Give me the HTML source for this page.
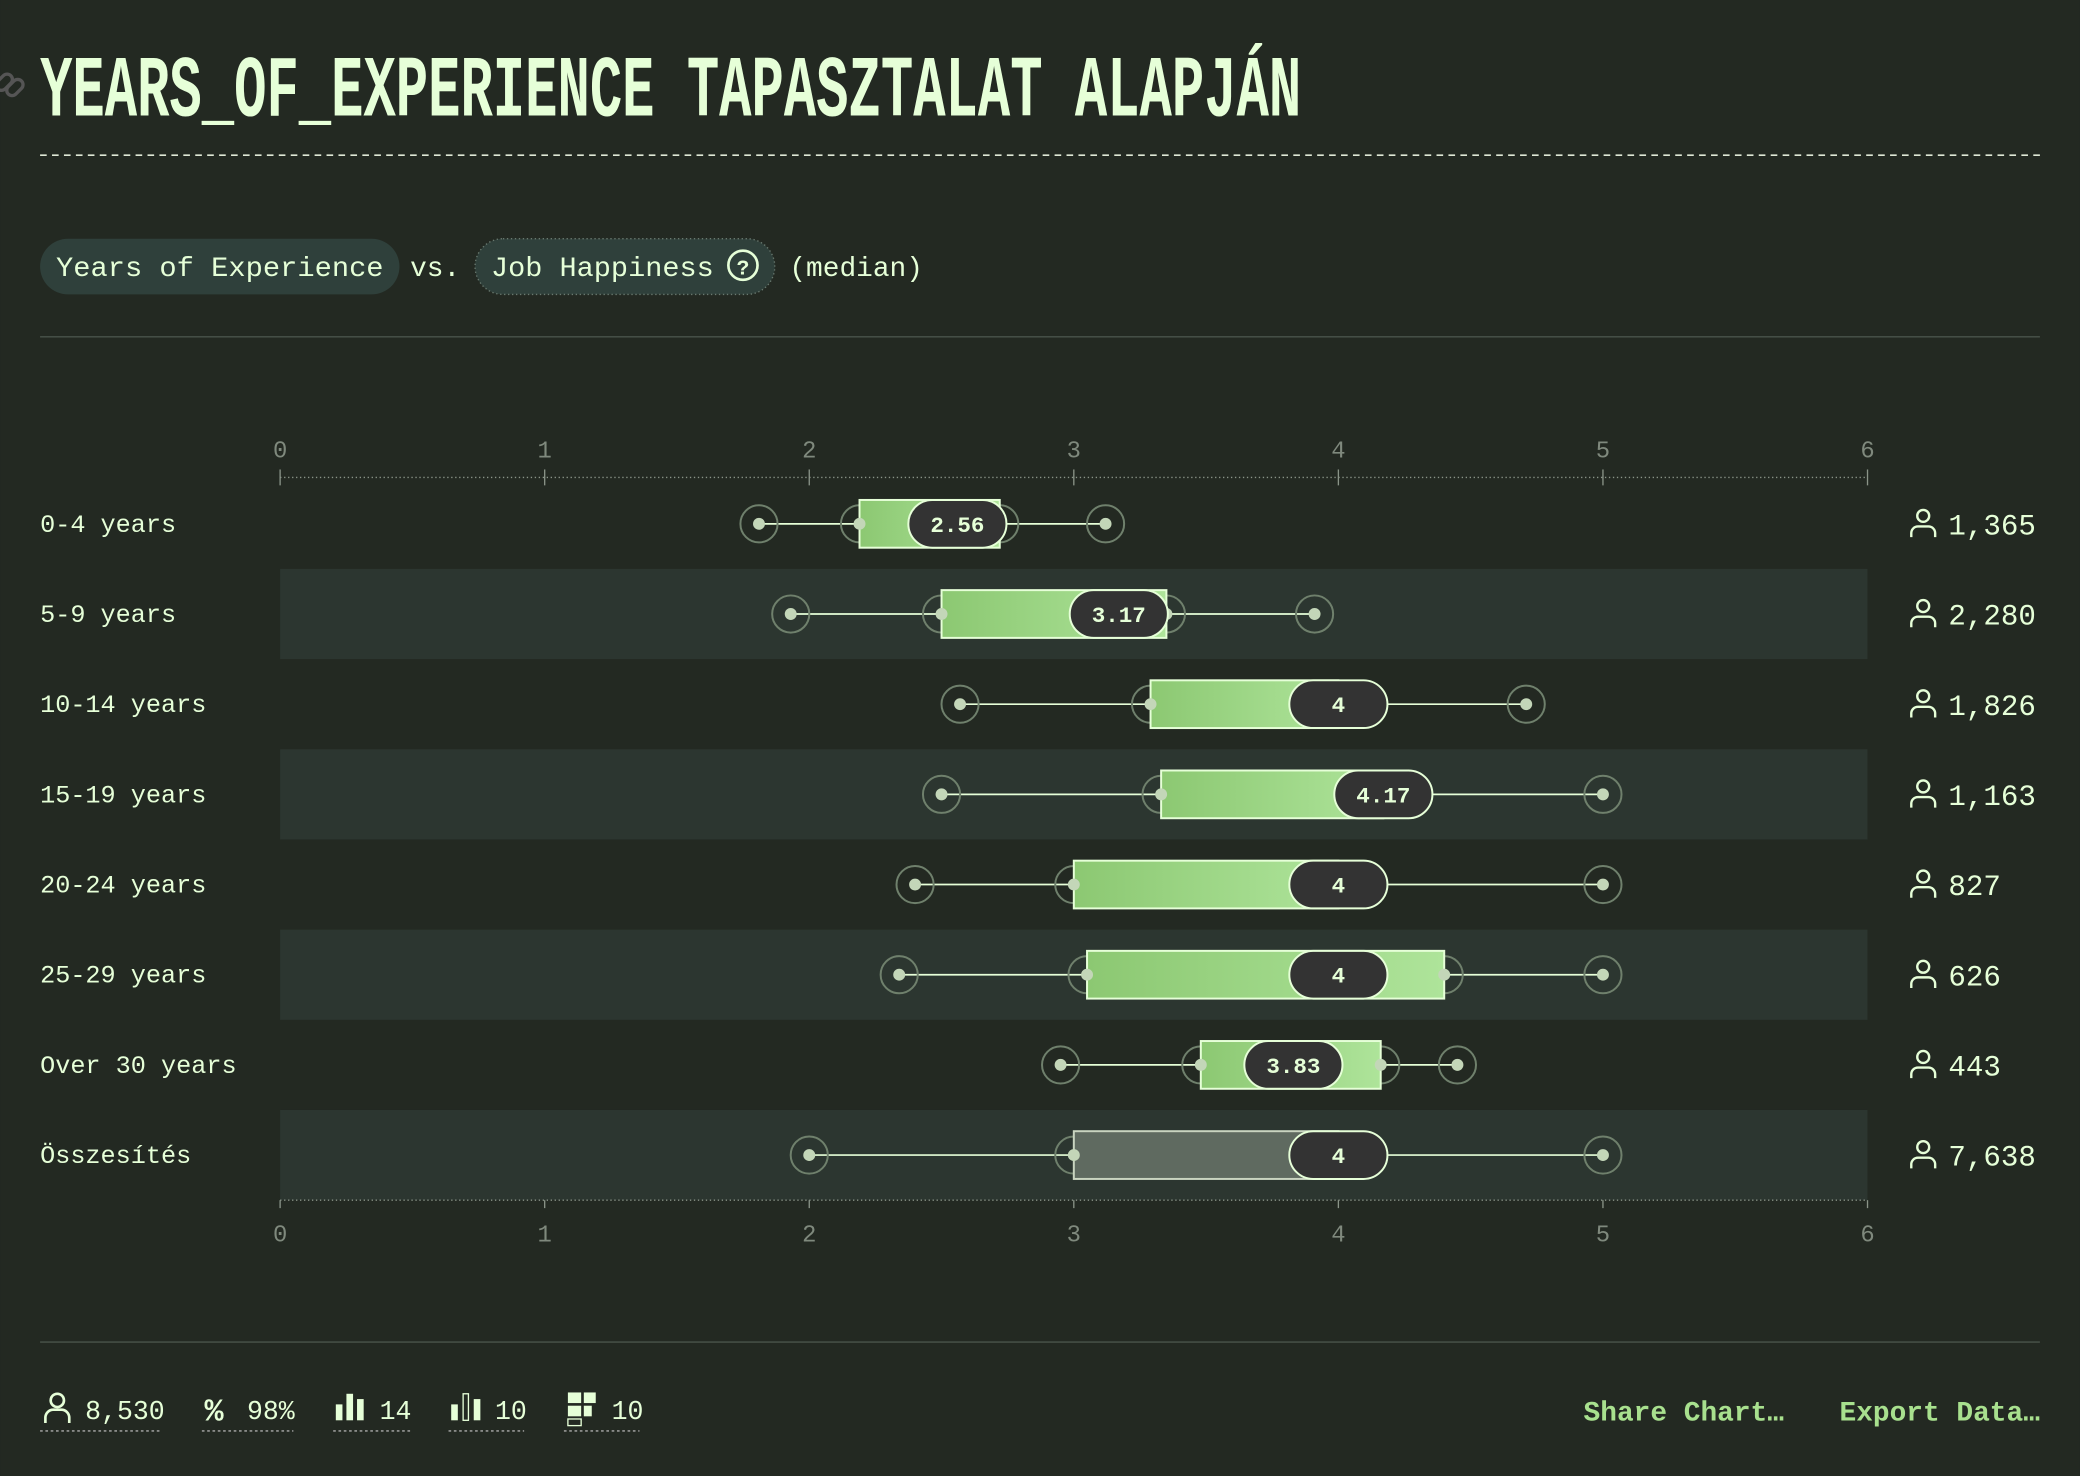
<!DOCTYPE html>
<html><head><meta charset="utf-8">
<style>
html,body{margin:0;padding:0;background:#232922;}
svg{display:block}
text{font-family:"Liberation Mono",monospace;}
</style></head>
<body>
<svg id="chart" width="2080" height="1476" viewBox="0 0 1568 1113" xmlns="http://www.w3.org/2000/svg">
<defs>
<linearGradient id="g" x1="0" x2="1" y1="0" y2="0"><stop offset="0" stop-color="#8cc872"/><stop offset="1" stop-color="#aee49a"/></linearGradient>
</defs>
<rect width="1568" height="1113" fill="#232922"/>
<g fill="none" stroke="#555" stroke-width="2.5">
<rect x="-4" y="58" width="14" height="8" rx="4" transform="rotate(-45 3 62)"/>
<rect x="4" y="62" width="14" height="8" rx="4" transform="rotate(-45 11 66)"/>
</g>
<text x="30" y="87" font-family="'Liberation Sans Narrow','Liberation Sans',sans-serif" font-weight="bold" font-size="66" fill="#e6ffd8" textLength="951" lengthAdjust="spacingAndGlyphs">YEARS_OF_EXPERIENCE TAPASZTALAT ALAPJÁN</text>
<line x1="30" x2="1538" y1="117" y2="117" stroke="#dfe8d6" stroke-dasharray="5 4" stroke-width="1.2"/>
<rect x="30" y="180" width="271" height="42" rx="21" fill="#2f403b"/>
<text x="42" y="208" font-size="21" fill="#e6ffd8" textLength="247" lengthAdjust="spacingAndGlyphs">Years of Experience</text>
<text x="309" y="208" font-size="21" fill="#e6ffd8">vs.</text>
<rect x="358" y="180" width="226" height="42" rx="21" fill="#2f403b" stroke="#6a7a70" stroke-dasharray="1 2"/>
<text x="370" y="208" font-size="21" fill="#e6ffd8" textLength="168" lengthAdjust="spacingAndGlyphs">Job Happiness</text>
<circle cx="560" cy="200" r="11" fill="none" stroke="#e6ffd8" stroke-width="2"/>
<text x="560" y="207" font-size="16" fill="#e6ffd8" text-anchor="middle" font-weight="bold">?</text>
<text x="595" y="208" font-size="21" fill="#e6ffd8">(median)</text>
<line x1="30" x2="1538" y1="254" y2="254" stroke="#4a544b"/>
<g id="plot"></g>
<line x1="30" x2="1538" y1="1012" y2="1012" stroke="#4a544b"/>
<g id="footer" fill="#e6ffd8">
<g>
<circle cx="43" cy="1056" r="5" fill="none" stroke="#e6ffd8" stroke-width="2"/><path d="M34 1073v-4a6 6 0 0 1 6-6h6a6 6 0 0 1 6 6v4" fill="none" stroke="#e6ffd8" stroke-width="2"/>
<text x="64" y="1070" font-size="20">8,530</text><line x1="30" x2="122" y1="1079" y2="1079" stroke="#aaa" stroke-dasharray="2 2"/></g>
<g><text x="154" y="1071" font-size="24" font-weight="bold">%</text><text x="186" y="1070" font-size="20">98%</text><line x1="152" x2="221" y1="1079" y2="1079" stroke="#aaa" stroke-dasharray="2 2"/></g>
<g><rect x="253" y="1059" width="5" height="12"/><rect x="261" y="1051" width="5" height="20"/><rect x="269" y="1055" width="5" height="16"/><text x="286" y="1070" font-size="20">14</text><line x1="251" x2="309" y1="1079" y2="1079" stroke="#aaa" stroke-dasharray="2 2"/></g>
<g><rect x="340" y="1059" width="5" height="12"/><rect x="349" y="1051" width="4" height="20" fill="none" stroke="#e6ffd8"/><rect x="357" y="1055" width="5" height="16"/><text x="373" y="1070" font-size="20">10</text><line x1="338" x2="395" y1="1079" y2="1079" stroke="#aaa" stroke-dasharray="2 2"/></g>
<g><rect x="428" y="1050" width="10" height="8"/><rect x="440" y="1050" width="9" height="8"/><rect x="428" y="1060" width="10" height="8"/><rect x="440" y="1060" width="6" height="8"/><rect x="428" y="1070" width="10" height="5" fill="none" stroke="#e6ffd8"/><text x="461" y="1070" font-size="20">10</text><line x1="425" x2="482" y1="1079" y2="1079" stroke="#aaa" stroke-dasharray="2 2"/></g>
<text x="1345" y="1071" font-size="21" font-weight="bold" fill="#a8e08e" text-anchor="end">Share Chart…</text>
<text x="1538" y="1071" font-size="21" font-weight="bold" fill="#a8e08e" text-anchor="end">Export Data…</text>
</g>
</svg>
<script>
const categories=["0-4 years","5-9 years","10-14 years","15-19 years","20-24 years","25-29 years","Over 30 years","Összesítés"];
const mins=[1.81,1.93,2.57,2.5,2.4,2.34,2.95,2.0];
const q1s=[2.19,2.5,3.29,3.33,3.0,3.05,3.48,3.0];
const medians=[2.56,3.17,4,4.17,4,4,3.83,4];
const q3s=[2.72,3.35,4.0,4.17,4.0,4.4,4.16,4.0];
const maxs=[3.12,3.91,4.71,5.0,5.0,5.0,4.45,5.0];
const counts=["1,365","2,280","1,826","1,163","827","626","443","7,638"];
const medianLabels=["2.56","3.17","4","4.17","4","4","3.83","4"];
const ticks=[0,1,2,3,4,5,6];
const NS="http://www.w3.org/2000/svg";
const X0=211,X1=1408,Y0=395,ROW=68;
const x=v=>X0+(v-0)/(6-0)*(X1-X0);
const y=i=>Y0+i*ROW;
const plot=document.getElementById('plot');
function mk(tag,attrs,parent){const e=document.createElementNS(NS,tag);for(const k in attrs)e.setAttribute(k,attrs[k]);(parent||plot).appendChild(e);return e;}
categories.forEach((c,i)=>{if(i%2===1){const b=mk('rect',{x:X0,y:y(i)-34,width:X1-X0,height:ROW,fill:'#2c3630'});

}});
[[360,340],[905,936]].forEach(([ly,ty],k)=>{
 mk('line',{x1:X0,x2:X1,y1:ly,y2:ly,stroke:'#8a9488','stroke-dasharray':'1 2'});
 ticks.forEach(t=>{mk('line',{x1:x(t),x2:x(t),y1:k?ly:ly-6,y2:k?ly+6:ly+6,stroke:'#8a9488'});
 const tx=mk('text',{x:x(t),y:ty+ (k?0:5),'font-size':18,fill:'#7f897d','text-anchor':'middle'});tx.textContent=t;
 
 });
});
categories.forEach((c,i)=>{
 const cy=y(i);const g=mk('g',{});
 
 
 const lab=mk('text',{x:30,y:cy+6,'font-size':19,fill:'#e6ffd8'},g);lab.textContent=c;
 mk('line',{x1:x(mins[i]),x2:x(maxs[i]),y1:cy,y2:cy,stroke:'#e6ffd8','stroke-width':1.3},g);
 [mins[i],q1s[i],q3s[i],maxs[i]].forEach(v=>{mk('circle',{cx:x(v),cy:cy,r:14,fill:'none',stroke:'#6f806c','stroke-width':1.5},g);});
 const last=i===categories.length-1;
 mk('rect',{x:x(q1s[i]),y:cy-18,width:x(q3s[i])-x(q1s[i]),height:36,fill:last?'#5f6a60':'url(#g)',stroke:last?'#c9d4c0':'#e6ffd8','stroke-width':1.5},g);
 [mins[i],q1s[i],q3s[i],maxs[i]].forEach(v=>{mk('circle',{cx:x(v),cy:cy,r:4.5,fill:'#c3d6b8'},g);});
 const mx=x(medians[i]);
 mk('rect',{x:mx-37,y:cy-18,width:74,height:36,rx:18,fill:'#333333',stroke:'#e6ffd8','stroke-width':1.5},g);
 const mt=mk('text',{x:mx,y:cy+6,'font-size':17,'font-weight':'bold',fill:'#e6ffd8','text-anchor':'middle'},g);mt.textContent=medianLabels[i];
 const ig=mk('g',{},g);
 mk('circle',{cx:1450,cy:cy-6,r:4.5,fill:'none',stroke:'#e6ffd8','stroke-width':1.8},ig);
 mk('path',{d:`M1441 ${cy+10}v-3a5 5 0 0 1 5-5h8a5 5 0 0 1 5 5v3`,fill:'none',stroke:'#e6ffd8','stroke-width':1.8},ig);
 const ct=mk('text',{x:1469,y:cy+8,'font-size':22,fill:'#e6ffd8'},g);ct.textContent=counts[i];
 
 
});
</script>
</body></html>
